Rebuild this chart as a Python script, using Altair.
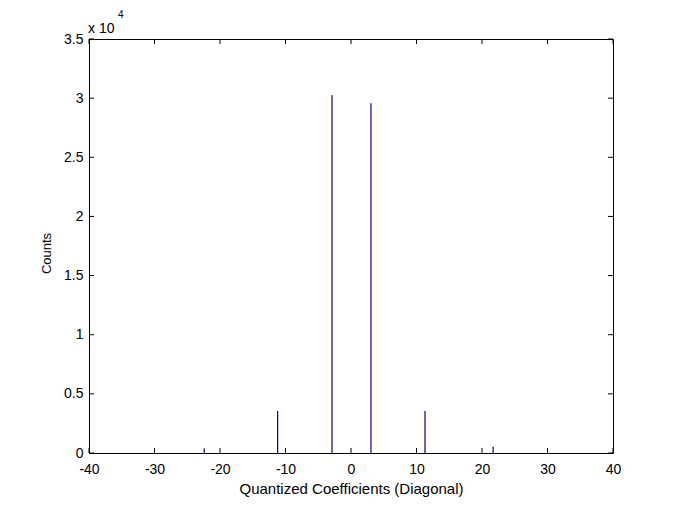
import altair as alt
import pandas as pd

# Data
coef = [-22.4, -11.2, -2.9, 3.05, 11.3, 21.7]
counts = [400, 3560, 30250, 29570, 3560, 520]
x_ticks = [-40, -30, -20, -10, 0, 10, 20, 30, 40]
y_ticks = [0, 5000, 10000, 15000, 20000, 25000, 30000, 35000]

W, H = 524, 414
FONT = "Liberation Sans"

df = pd.DataFrame({"coef": coef, "count": counts})
xt = pd.DataFrame({"v": x_ticks})
yt = pd.DataFrame({"v": y_ticks})

xscale = alt.Scale(domain=[-40, 40], nice=False, zero=False)
yscale = alt.Scale(domain=[0, 35000], nice=False)

xaxis = alt.Axis(values=x_ticks, title="Quantized Coefficients (Diagonal)", grid=False,
                 domain=False, ticks=False, labelExpr="datum.value + ''",
                 labelFont=FONT, labelFontSize=14, labelColor="black",
                 labelPadding=9, titleFont=FONT, titleFontSize=15, titleFontWeight="normal",
                 titleColor="black", titlePadding=5, labelFlush=False)
yaxis = alt.Axis(values=y_ticks, title="Counts", grid=False, domain=False, ticks=False,
                 labelExpr="datum.value/10000 + ''", labelFont=FONT, labelFontSize=14,
                 labelColor="black", labelPadding=6, titleFont=FONT, titleFontSize=13,
                 titleFontWeight="normal", titleColor="black", titlePadding=10,
                 titleY=214, labelFlush=False)

stems = alt.Chart(df).mark_rule(color="#000080", strokeWidth=1.2).encode(
    x=alt.X("coef:Q", scale=xscale, axis=xaxis),
    y=alt.Y("count:Q", scale=yscale, axis=yaxis),
    y2=alt.datum(0),
)

tick_color = "black"
bot = alt.Chart(xt).mark_rule(color=tick_color).encode(
    x=alt.X("v:Q", scale=xscale), y=alt.value(H), y2=alt.value(H - 5))
top = alt.Chart(xt).mark_rule(color=tick_color).encode(
    x=alt.X("v:Q", scale=xscale), y=alt.value(0), y2=alt.value(5))
left = alt.Chart(yt).mark_rule(color=tick_color).encode(
    y=alt.Y("v:Q", scale=yscale), x=alt.value(0), x2=alt.value(5))
right = alt.Chart(yt).mark_rule(color=tick_color).encode(
    y=alt.Y("v:Q", scale=yscale), x=alt.value(W), x2=alt.value(W - 5))

exp_base = alt.Chart(pd.DataFrame({"t": ["x 10"]})).mark_text(
    font=FONT, fontSize=14, align="left", baseline="alphabetic", color="black"
).encode(text="t:N", x=alt.value(-1), y=alt.value(-6))
exp_sup = alt.Chart(pd.DataFrame({"t": ["4"]})).mark_text(
    font=FONT, fontSize=10, align="left", baseline="alphabetic", color="black"
).encode(text="t:N", x=alt.value(29), y=alt.value(-21))

chart = alt.layer(stems, bot, top, left, right, exp_base, exp_sup).properties(
    width=W, height=H,
    autosize=alt.AutoSizeParams(type="none"),
    padding={"left": 81, "top": 31, "right": 40, "bottom": 47},
    background="white",
).configure_view(stroke="black", strokeWidth=1)

chart.save("out.html", embed_options={"renderer": "svg", "actions": False})
